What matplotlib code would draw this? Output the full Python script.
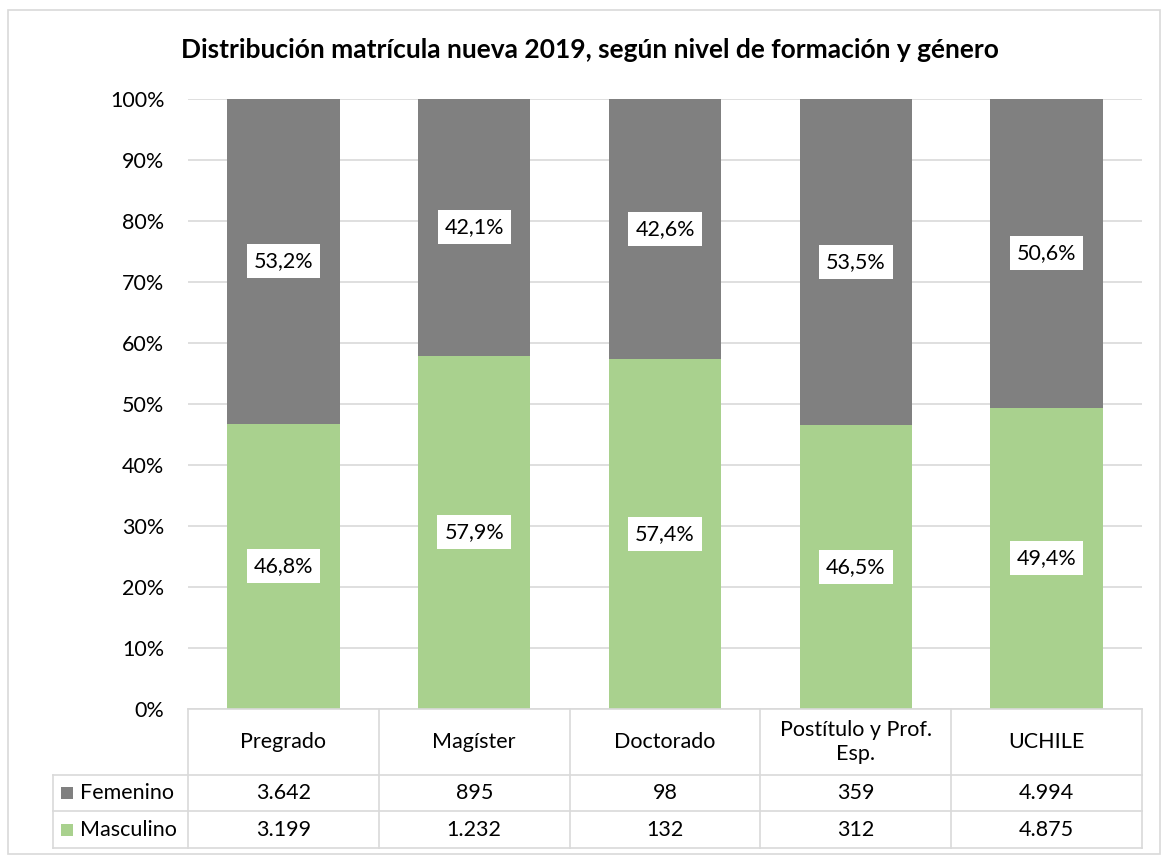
import matplotlib.pyplot as plt
from matplotlib.patches import Rectangle
from matplotlib.transforms import blended_transform_factory

plt.rcParams['font.family'] = ['Lato', 'DejaVu Sans']

categories = ['Pregrado', 'Magíster', 'Doctorado', 'Postítulo y Prof.\nEsp.', 'UCHILE']
femenino = [3642, 895, 98, 359, 4994]
masculino = [3199, 1232, 132, 312, 4875]
fem_labels = ['3.642', '895', '98', '359', '4.994']
mas_labels = ['3.199', '1.232', '132', '312', '4.875']
y_ticks = [0, 10, 20, 30, 40, 50, 60, 70, 80, 90, 100]

GRAY = '#808080'
GREEN = '#a9d18e'
LINE = '#d9d9d9'
FS = 15.5

W, H = 1161, 855
fig = plt.figure(figsize=(W / 100, H / 100), dpi=100)
ax = fig.add_axes([188 / W, 1 - 709 / H, (1142 - 188) / W, (709 - 99) / H])

total = [f + m for f, m in zip(femenino, masculino)]
mas_pct = [100 * m / t for m, t in zip(masculino, total)]
fem_pct = [100 * f / t for f, t in zip(femenino, total)]
x = list(range(len(categories)))

ax.bar(x, mas_pct, width=0.59, color=GREEN, zorder=2)
ax.bar(x, fem_pct, width=0.59, bottom=mas_pct, color=GRAY, zorder=2)

box = dict(facecolor='white', edgecolor='none', pad=5)
for i in x:
    ax.text(i, mas_pct[i] / 2, f'{mas_pct[i]:.1f}%'.replace('.', ','),
            ha='center', va='center', fontsize=FS, bbox=box, zorder=3)
    ax.text(i, mas_pct[i] + fem_pct[i] / 2, f'{fem_pct[i]:.1f}%'.replace('.', ','),
            ha='center', va='center', fontsize=FS, bbox=box, zorder=3)

ax.set_xlim(-0.5, len(categories) - 0.5)
ax.set_ylim(0, 100)
ax.set_yticks(y_ticks)
ax.set_yticklabels([f'{t}%' for t in y_ticks], fontsize=FS)
ax.set_xticks([])
ax.tick_params(axis='y', length=0, pad=17)
ax.grid(axis='y', color=LINE, linewidth=1.2, zorder=0)
for s in ax.spines.values():
    s.set_visible(False)

fig.text(590 / W, 1 - 50 / H, 'Distribución matrícula nueva 2019, según nivel de formación y género',
         ha='center', va='center', fontsize=19, fontweight='bold')

# data table under the chart
tr = blended_transform_factory(ax.transData, fig.transFigure)
def fy(py):
    return 1 - py / H

x_left = -0.5 - (188 - 53) / ((1142 - 188) / 5)
x_right = len(categories) - 0.5
lw = 1.2
for py, x0 in [(709, -0.5), (775, x_left), (811, x_left), (848, x_left)]:
    fig.add_artist(plt.Line2D([x0, x_right], [fy(py), fy(py)], transform=tr, color=LINE, lw=lw))
for b in [i - 0.5 for i in range(len(categories) + 1)]:
    fig.add_artist(plt.Line2D([b, b], [fy(709), fy(848)], transform=tr, color=LINE, lw=lw))
fig.add_artist(plt.Line2D([x_left, x_left], [fy(775), fy(848)], transform=tr, color=LINE, lw=lw))

for i, c in enumerate(categories):
    fig.text(i, fy(742), c, transform=tr, ha='center', va='center', fontsize=FS, linespacing=1.2)
    fig.text(i, fy(793), fem_labels[i], transform=tr, ha='center', va='center', fontsize=FS)
    fig.text(i, fy(830), mas_labels[i], transform=tr, ha='center', va='center', fontsize=FS)

for py, name, col in [(793, 'Femenino', GRAY), (830, 'Masculino', GREEN)]:
    fig.add_artist(Rectangle((61 / W, fy(py + 6)), 12 / W, 12 / H, transform=fig.transFigure,
                             facecolor=col, edgecolor='none'))
    fig.text(80 / W, fy(py), name, ha='left', va='center', fontsize=FS)

fig.add_artist(Rectangle((8 / W, 1 / H), (W - 9) / W, (H - 11) / H, transform=fig.transFigure,
                         facecolor='none', edgecolor=LINE, lw=1.2))

fig.savefig('out.png', dpi=100)
